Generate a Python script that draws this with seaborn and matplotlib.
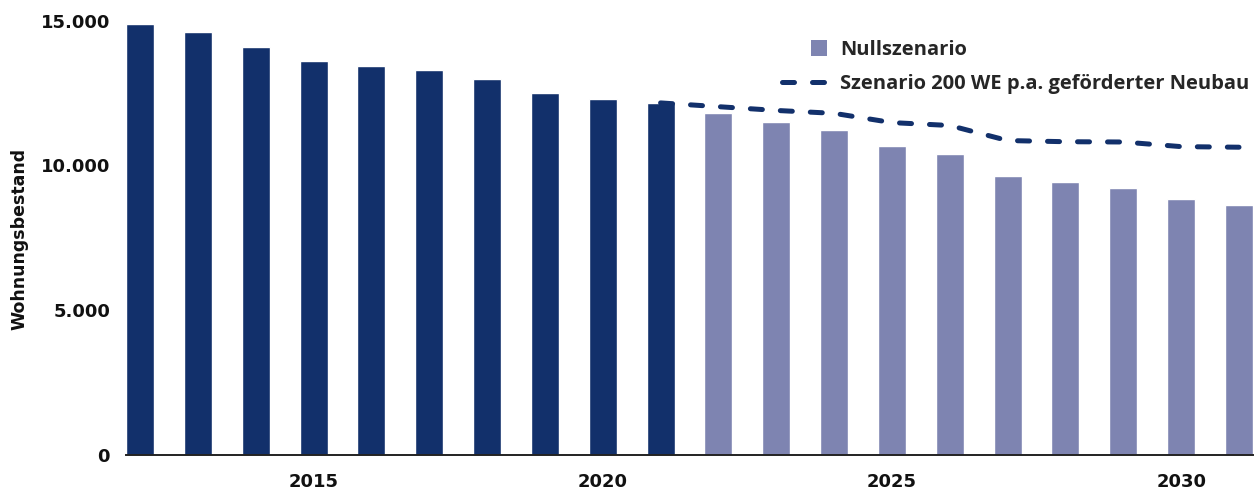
import matplotlib
matplotlib.use("Agg")
import matplotlib.pyplot as plt
import seaborn as sns
import pandas as pd
from matplotlib.patches import Rectangle
from matplotlib.lines import Line2D
from matplotlib.legend_handler import HandlerPatch

# ---- data ----
years = list(range(2012, 2032))
bestand = [14900, 14600, 14100, 13600, 13450, 13300, 13000, 12500, 12300, 12150,
           11800, 11500, 11230, 10670, 10400, 9640, 9430, 9220, 8840, 8640]
phase = ["Bestand"] * 10 + ["Nullszenario"] * 10
line_years = list(range(2021, 2032))
line_values = [12160, 12030, 11900, 11800, 11480, 11380, 10860, 10820, 10810, 10650, 10630]
y_ticks = [0, 5000, 10000, 15000]
y_ticklabels = ["0", "5.000", "10.000", "15.000"]
x_ticks = [2015, 2020, 2025, 2030]
label_null = "Nullszenario"
label_line = "Szenario 200 WE p.a. geförderter Neubau"
y_label = "Wohnungsbestand"

NAVY = "#12306B"
LIGHT = "#7E84B1"

sns.set_theme(style="white")
plt.rcParams["font.family"] = ["DejaVu Sans"]

df = pd.DataFrame({"year": years, "value": bestand, "phase": phase})

fig = plt.figure(figsize=(12.57, 4.90), dpi=100)
W, H = 1257, 490
ax_left, ax_right, ax_bottom, ax_top = 126, 1253, 455, 6.2
ax = fig.add_axes([ax_left / W, (H - ax_bottom) / H, (ax_right - ax_left) / W, (ax_bottom - ax_top) / H])

sns.barplot(data=df, x="year", y="value", hue="phase",
            palette={"Bestand": NAVY, "Nullszenario": LIGHT},
            dodge=False, width=0.484, native_scale=True, saturation=1,
            errorbar=None, legend=False, ax=ax)

sns.lineplot(x=line_years, y=line_values, color=NAVY, linewidth=3.6, ax=ax)
ln = ax.lines[-1]
ln.set_linestyle((0, (2.4, 3.6)))
ln.set_dash_capstyle("round")

ax.set_xlim(2012 - 0.242, 2031 + 0.242)
ax.set_ylim(0, 15500)
ax.set_yticks(y_ticks)
ax.set_yticklabels(y_ticklabels)
ax.set_xticks(x_ticks)
ax.set_xticklabels([str(x) for x in x_ticks])
ax.set_xlabel("")
ax.set_ylabel("")
for lab in ax.get_xticklabels() + ax.get_yticklabels():
    lab.set_fontweight("bold")
    lab.set_fontsize(13)
    lab.set_color("#111111")
ax.tick_params(axis="y", length=0, pad=11.5)
ax.tick_params(axis="x", length=0, pad=13)
for s in ["top", "right", "left"]:
    ax.spines[s].set_visible(False)
ax.spines["bottom"].set_color("#222222")
ax.spines["bottom"].set_linewidth(1.4)
ax.spines["bottom"].set_zorder(5)
ax.grid(False)

fig.text(19 / W, 1 - 239 / H, y_label, rotation=90, ha="center", va="center",
         fontsize=12.5, fontweight="bold", color="#111111")


class SquareRight(HandlerPatch):
    def create_artists(self, legend, orig_handle, xdescent, ydescent,
                       width, height, fontsize, trans):
        s = 11.5
        r = Rectangle((width - xdescent - s + 1.5, height / 2 - ydescent - s / 2), s, s,
                      facecolor=LIGHT, edgecolor="none", transform=trans)
        return [r]


null_handle = ax.containers[1][0] if len(ax.containers) > 1 else Rectangle((0, 0), 1, 1, color=LIGHT)
line_handle = Line2D([], [], color=NAVY, linewidth=3.6, linestyle=(0, (2.4, 3.6)),
                     dash_capstyle="round")
fs = 14.5
leg = fig.legend([null_handle, line_handle], [label_null, label_line],
                 loc="upper left", bbox_to_anchor=(782 / W, 1 - 40 / H),
                 frameon=False, handlelength=31 / fs, handletextpad=11 / fs,
                 labelspacing=0.7, borderpad=0, borderaxespad=0,
                 prop={"family": "Open Sans", "weight": "bold", "size": fs},
                 handler_map={null_handle: SquareRight()})

fig.savefig("out.png", dpi=100)
